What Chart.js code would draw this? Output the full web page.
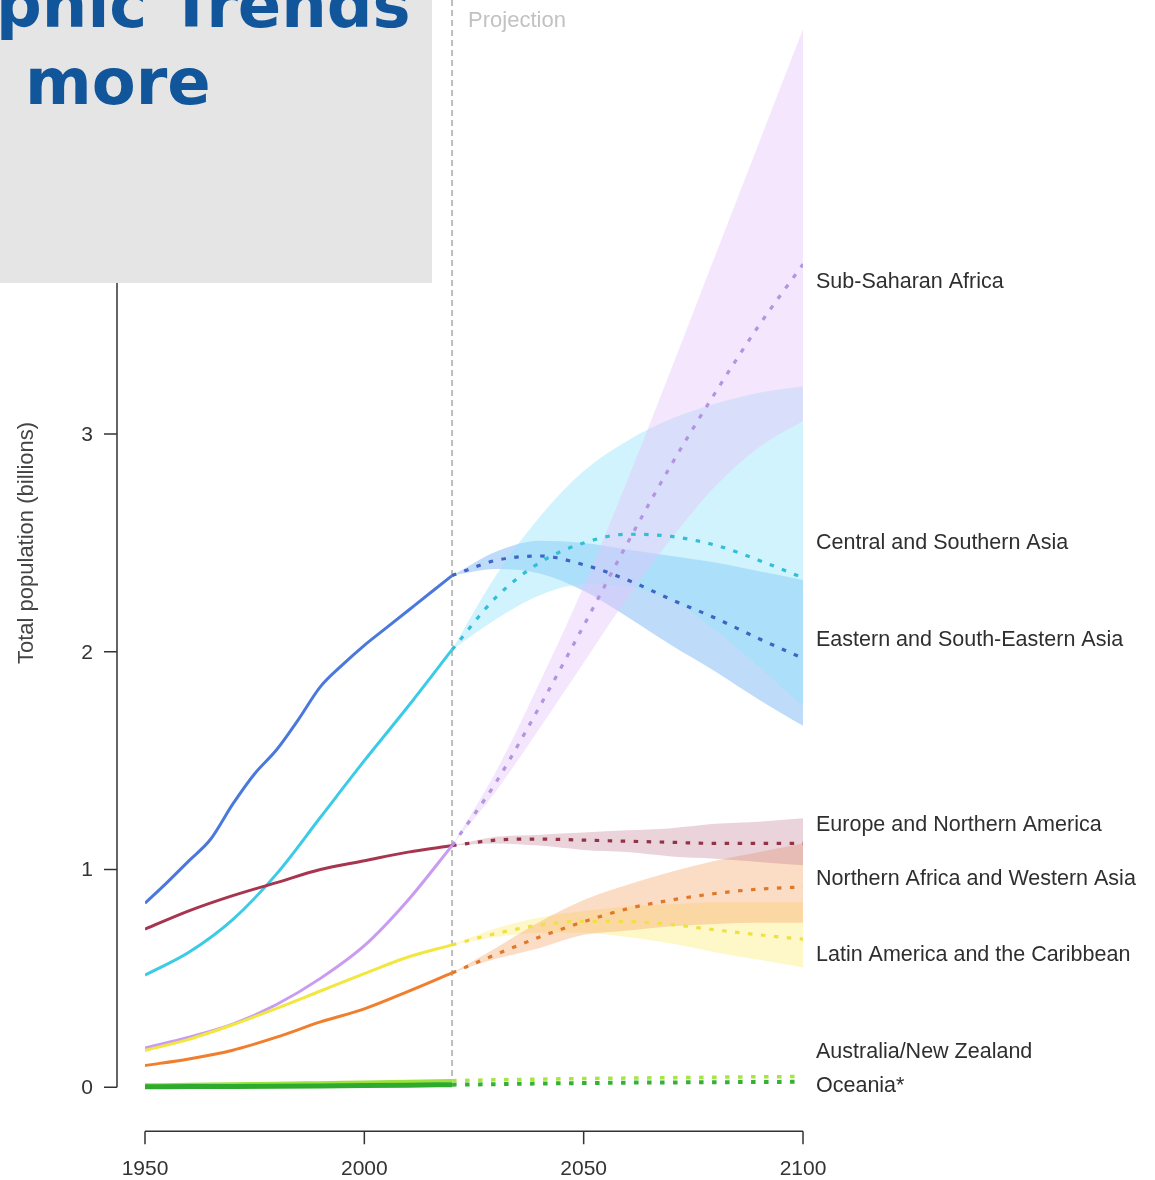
<!DOCTYPE html>
<html>
<head>
<meta charset="utf-8">
<script src="https://cdn.jsdelivr.net/npm/chart.js@4/dist/chart.umd.min.js"></script>
<style>
  body { margin: 0; background: #fff; }
  #wrap { width: 1155px; height: 1180px; }
</style>
</head>
<body>
<div id="wrap"><canvas id="myChart" width="1155" height="1180"></canvas></div>
<script>
// years
const histYears = [1950, 1960, 1970, 1980, 1990, 2000, 2010, 2020];
const esHistYears = [1950, 1955, 1960, 1965, 1970, 1975, 1980, 1985, 1990, 1995, 2000, 2005, 2010, 2015, 2020];
const projYears = [2020, 2030, 2040, 2050, 2060, 2070, 2080, 2090, 2100];

// Sub-Saharan Africa
const ssaHist = [0.18, 0.23, 0.29, 0.38, 0.50, 0.65, 0.86, 1.11];
const ssaProj = [1.11, 1.40, 1.75, 2.12, 2.50, 2.86, 3.19, 3.50, 3.78];
const ssaLow  = [1.11, 1.36, 1.65, 1.95, 2.25, 2.52, 2.76, 2.94, 3.06];
const ssaHigh = [1.11, 1.45, 1.86, 2.30, 2.79, 3.30, 3.82, 4.34, 4.86];

// Central and Southern Asia
const csHist = [0.515, 0.62, 0.77, 0.98, 1.24, 1.50, 1.75, 2.01];
const csProj = [2.01, 2.25, 2.41, 2.50, 2.54, 2.53, 2.49, 2.42, 2.34];
const csLow  = [2.01, 2.15, 2.26, 2.31, 2.30, 2.24, 2.10, 1.93, 1.75];
const csHigh = [2.01, 2.35, 2.62, 2.83, 2.97, 3.07, 3.14, 3.19, 3.22];

// Eastern and South-Eastern Asia
const esHist = [0.845, 0.94, 1.04, 1.14, 1.30, 1.44, 1.55, 1.69, 1.84, 1.94, 2.03, 2.11, 2.19, 2.27, 2.35];
const esProj = [2.35, 2.42, 2.44, 2.40, 2.33, 2.24, 2.155, 2.06, 1.97];
const esLow  = [2.35, 2.38, 2.36, 2.28, 2.16, 2.03, 1.91, 1.78, 1.66];
const esHigh = [2.35, 2.46, 2.51, 2.50, 2.47, 2.44, 2.41, 2.37, 2.33];

// Europe and Northern America
const euHist = [0.726, 0.81, 0.88, 0.94, 1.00, 1.04, 1.08, 1.11];
const euProj = [1.11, 1.135, 1.14, 1.135, 1.13, 1.125, 1.12, 1.12, 1.12];
const euLow  = [1.11, 1.12, 1.11, 1.09, 1.08, 1.06, 1.05, 1.035, 1.02];
const euHigh = [1.11, 1.15, 1.16, 1.17, 1.18, 1.19, 1.21, 1.22, 1.235];

// Northern Africa and Western Asia
const naHist = [0.10, 0.13, 0.17, 0.23, 0.30, 0.36, 0.44, 0.525];
const naProj = [0.525, 0.61, 0.69, 0.76, 0.82, 0.86, 0.89, 0.91, 0.92];
const naLow  = [0.525, 0.59, 0.64, 0.70, 0.72, 0.74, 0.75, 0.755, 0.755];
const naHigh = [0.525, 0.64, 0.76, 0.86, 0.93, 0.99, 1.04, 1.08, 1.12];

// Latin America and the Caribbean
const laHist = [0.169, 0.22, 0.287, 0.362, 0.442, 0.522, 0.598, 0.654];
const laProj = [0.654, 0.706, 0.745, 0.762, 0.761, 0.747, 0.723, 0.70, 0.68];
const laLow  = [0.654, 0.69, 0.71, 0.71, 0.69, 0.66, 0.62, 0.585, 0.55];
const laHigh = [0.654, 0.73, 0.78, 0.81, 0.83, 0.84, 0.85, 0.85, 0.85];

// Australia/New Zealand, Oceania*
const anHist = [0.010, 0.012, 0.015, 0.017, 0.020, 0.023, 0.026, 0.030];
const anProj = [0.030, 0.034, 0.037, 0.040, 0.042, 0.044, 0.046, 0.048, 0.049];
const ocHist = [0.0024, 0.003, 0.0036, 0.0046, 0.0058, 0.0074, 0.0094, 0.0119];
const ocProj = [0.0119, 0.014, 0.017, 0.019, 0.021, 0.022, 0.023, 0.024, 0.025];

// axes / labels
const xTicks = [1950, 2000, 2050, 2100];
const yTicks = [0, 1, 2, 3, 4];
const regionNames = ['Sub-Saharan Africa', 'Central and Southern Asia', 'Eastern and South-Eastern Asia',
  'Europe and Northern America', 'Northern Africa and Western Asia', 'Latin America and the Caribbean',
  'Australia/New Zealand', 'Oceania*'];
const regionLabelY = [3.70, 2.50, 2.055, 1.205, 0.957, 0.607, 0.161, 0.005];
const projectionStart = 2020;

const pts = (xs, ys) => xs.map((x, i) => ({ x: x, y: ys[i] }));

const datasets = [];

function addBand(low, high, color) {
    datasets.push({ data: pts(projYears, low), borderWidth: 0, pointRadius: 0, fill: false, order: 10,
        cubicInterpolationMode: 'monotone' });
    datasets.push({ data: pts(projYears, high), borderWidth: 0, pointRadius: 0, fill: '-1', backgroundColor: color, order: 10,
        cubicInterpolationMode: 'monotone' });
}
function addLine(xs, ys, color, dotted, width, order) {
    datasets.push({
        data: pts(xs, ys), borderColor: color, borderWidth: width || 3, pointRadius: 0,
        borderDash: dotted ? [4.5, 8.5] : [], fill: false, order: order || 1,
        cubicInterpolationMode: 'monotone', borderCapStyle: 'butt'
    });
}

// 구간 (bands)
addBand(ssaLow, ssaHigh, 'rgba(228,196,248,0.42)');
addBand(csLow, csHigh, 'rgba(150,228,250,0.45)');
addBand(esLow, esHigh, 'rgba(110,175,245,0.45)');
addBand(euLow, euHigh, 'rgba(195,130,148,0.35)');
addBand(naLow, naHigh, 'rgba(246,168,110,0.40)');
addBand(laLow, laHigh, 'rgba(253,238,130,0.45)');

// lines
addLine(histYears, ocHist, '#2eaa2e', false, 5, 2);
addLine(histYears, anHist, '#9be23a', false, 3.5, 2);
addLine(projYears, ocProj, '#35b035', true, 4, 2);
addLine(projYears, anProj, '#a6e640', true, 3.5, 2);
addLine(histYears, naHist, '#f07e2c', false);
addLine(projYears, naProj, '#e0782a', true, 3.2);
addLine(histYears, laHist, '#f2e641', false);
addLine(projYears, laProj, '#efe045', true, 3.2);
addLine(histYears, ssaHist, '#c89cf0', false);
addLine(projYears, ssaProj, '#b394e0', true, 3.2);
addLine(histYears, euHist, '#a8354f', false);
addLine(projYears, euProj, '#923347', true, 3.2);
addLine(histYears, csHist, '#3ccbe6', false);
addLine(projYears, csProj, '#30bfd4', true, 3.2);
addLine(esHistYears, esHist, '#4a78dc', false);
addLine(projYears, esProj, '#3e64c4', true, 3.2);

const decor = {
    id: 'decor',
    beforeDatasetsDraw(chart) {
        const ctx = chart.ctx;
        const xs = chart.scales.x, ys = chart.scales.y;
        const px = xs.getPixelForValue(projectionStart);
        ctx.save();
        ctx.strokeStyle = '#bdbdbd';
        ctx.lineWidth = 2;
        ctx.setLineDash([6, 4]);
        ctx.beginPath();
        ctx.moveTo(px, 0);
        ctx.lineTo(px, ys.getPixelForValue(0.04));
        ctx.stroke();
        ctx.restore();
    },
    afterDraw(chart) {
        const ctx = chart.ctx;
        const xs = chart.scales.x, ys = chart.scales.y;
        ctx.save();
        ctx.strokeStyle = '#333';
        ctx.fillStyle = '#333';
        ctx.lineWidth = 1.5;

        // y axis (R style, offset left)
        const ax = xs.getPixelForValue(1950) - 28;
        ctx.beginPath();
        ctx.moveTo(ax, ys.getPixelForValue(yTicks[0]));
        ctx.lineTo(ax, ys.getPixelForValue(yTicks[yTicks.length - 1]));
        yTicks.forEach(t => {
            const py = ys.getPixelForValue(t);
            ctx.moveTo(ax, py);
            ctx.lineTo(ax - 13, py);
        });
        ctx.stroke();
        ctx.font = '21px "Liberation Sans", Arial, sans-serif';
        ctx.textAlign = 'right';
        ctx.textBaseline = 'middle';
        yTicks.forEach(t => ctx.fillText(String(t), ax - 24, ys.getPixelForValue(t) + 1));

        // y title
        ctx.save();
        ctx.translate(27, ys.getPixelForValue(2.5));
        ctx.rotate(-Math.PI / 2);
        ctx.textAlign = 'center';
        ctx.fillStyle = '#444';
        ctx.font = '22px "Liberation Sans", Arial, sans-serif';
        ctx.fillText('Total population (billions)', 0, 0);
        ctx.restore();

        // x axis (R style, offset below)
        const ay = ys.getPixelForValue(0) + 44;
        ctx.beginPath();
        ctx.moveTo(xs.getPixelForValue(xTicks[0]), ay);
        ctx.lineTo(xs.getPixelForValue(xTicks[xTicks.length - 1]), ay);
        xTicks.forEach(t => {
            const p = xs.getPixelForValue(t);
            ctx.moveTo(p, ay);
            ctx.lineTo(p, ay + 13);
        });
        ctx.stroke();
        ctx.textAlign = 'center';
        xTicks.forEach(t => ctx.fillText(String(t), xs.getPixelForValue(t), ay + 38));

        // region labels
        ctx.font = '21.5px "Liberation Sans", Arial, sans-serif';
        ctx.textAlign = 'left';
        ctx.fillStyle = '#2f2f2f';
        const lx = xs.getPixelForValue(2100) + 13;
        regionNames.forEach((n, i) => ctx.fillText(n, lx, ys.getPixelForValue(regionLabelY[i])));

        // Projection
        ctx.fillStyle = '#c2c2c2';
        ctx.font = '22px "Liberation Sans", Arial, sans-serif';
        ctx.fillText('Projection', xs.getPixelForValue(projectionStart) + 16, 21);

        // title box overlay
        ctx.fillStyle = '#e5e5e5';
        ctx.fillRect(0, 0, 432, 283);
        ctx.fillStyle = '#11559a';
        ctx.font = 'bold 64px "DejaVu Sans", Verdana, sans-serif';
        ctx.textBaseline = 'alphabetic';
        ctx.fillText('phic Trends', -4, 27);
        ctx.fillText('more', 25, 104);
        ctx.restore();
    }
};

const config = {
    type: 'line',
    data: { datasets: datasets },
    options: {
        responsive: false,
        animation: false,
        layout: { padding: { left: 145, right: 352, top: 0, bottom: 71 } },
        plugins: { legend: false, tooltip: false },
        scales: {
            x: { type: 'linear', min: 1950, max: 2100, display: false },
            y: { type: 'linear', min: -0.1, max: 4.994, display: false }
        }
    },
    plugins: [decor]
};

const myChart = new Chart(document.getElementById('myChart'), config);
</script>
</body>
</html>
